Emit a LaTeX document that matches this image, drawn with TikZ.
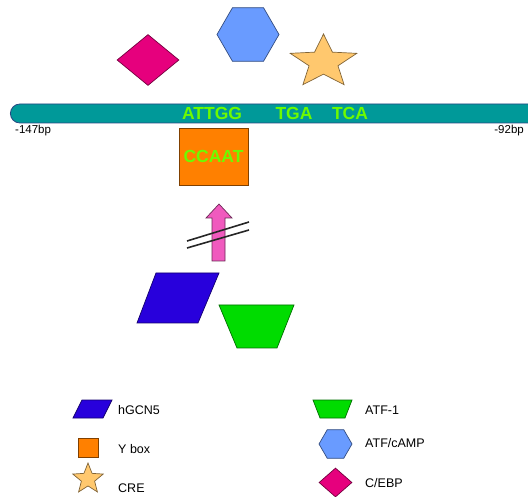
\documentclass[tikz,border=0pt]{standalone}
\usepackage{fontspec}
\setmainfont{Liberation Sans}
\usetikzlibrary{shapes.geometric}
\definecolor{dnateal}{RGB}{0,153,153}
\definecolor{dnaedge}{RGB}{40,70,130}
\definecolor{seqgreen}{RGB}{110,250,0}
\definecolor{yboxorange}{RGB}{255,128,0}
\definecolor{cebppink}{RGB}{230,0,125}
\definecolor{campblue}{RGB}{105,155,255}
\definecolor{crestar}{RGB}{255,200,110}
\definecolor{gcnblue}{RGB}{40,0,220}
\definecolor{atfgreen}{RGB}{0,220,0}
\definecolor{arrowpink}{RGB}{240,90,190}

\begin{document}
\begin{tikzpicture}[
    x=1pt, y=-1pt,
    prot/.style={draw=#1!50!black, fill=#1, line width=0.7pt, inner sep=0pt},
    hexa/.style={regular polygon, regular polygon sides=6},
    seq/.style={text=seqgreen, inner sep=0pt,
                font=\fontsize{17.5}{17.5}\selectfont\bfseries},
    bp/.style={inner sep=0pt, font=\fontsize{11.5}{11.5}\selectfont},
    lbl/.style={anchor=west, inner sep=0pt, font=\fontsize{12.5}{12.5}\selectfont},
    slash/.style={line width=1.6pt, black!85}
]
    \useasboundingbox (0,0) rectangle (528,497);
    % promoter strand
    \node[draw=dnaedge, fill=dnateal, line width=0.8pt, rounded corners=9.5pt,
          minimum width=545pt, minimum height=19pt, anchor=west] (dna) at (10,113.5) {};
    \node[seq] (attgg) at (212,113) {ATTGG};
    \node[seq] (tga)   at (294,113) {TGA};
    \node[seq] (tca)   at (350,113) {TCA};
    \node[bp, anchor=west] (left)  at (15,131) {-147bp};
    \node[bp, anchor=east] (right) at (524,131) {-92bp};
    % bound factors
    \node[prot=cebppink, diamond, minimum width=62pt, minimum height=51pt] (cebp) at (148,60) {};
    \node[prot=campblue, hexa, minimum size=62pt] (camp) at (248,34.5) {};
    \node[prot=crestar, star, star points=5, star point ratio=2.3,
          minimum size=56pt, xscale=1.25] (cre) at (323.5,62) {};
    \node[prot=yboxorange, minimum width=69pt, minimum height=57pt, seq,
          text=seqgreen] (ccaat) at (213.5,156.5) {CCAAT};
    % blocked recruitment
    \filldraw[fill=arrowpink, draw=arrowpink!45!black, line width=0.7pt]
        (212,261) -- (212,218) -- (206,218) -- (219,204) -- (232,218)
        -- (225,218) -- (225,261) -- cycle;
    \draw[slash] (187,241) -- (249,222);
    \draw[slash] (187,248) -- (249,230);
    \filldraw[prot=gcnblue] (137,323) -- (156,273) -- (219,273) -- (198,323) -- cycle;
    \filldraw[prot=atfgreen] (219,305) -- (294,305) -- (277,348) -- (237,348) -- cycle;
    % legend
    \filldraw[prot=gcnblue] (73,418) -- (82,400) -- (112,400) -- (103,418) -- cycle;
    \node[prot=yboxorange, minimum width=20pt, minimum height=19pt] (kybox) at (88,447.5) {};
    \node[prot=crestar, star, star points=5, star point ratio=2.3, minimum size=32pt] (kcre) at (88,479) {};
    \filldraw[prot=atfgreen] (313,400) -- (352,400) -- (345,418) -- (320,418) -- cycle;
    \node[prot=campblue, hexa, minimum size=33pt] (kcamp) at (335.5,444) {};
    \node[prot=cebppink, diamond, minimum width=33pt, minimum height=29pt] (kcebp) at (335.5,482.5) {};
    \node[lbl] (tgcn)  at (118,410) {hGCN5};
    \node[lbl] (tybox) at (118,449) {Y box};
    \node[lbl] (tcre)  at (118,488) {CRE};
    \node[lbl] (tatf)  at (365,410) {ATF-1};
    \node[lbl] (tcamp) at (365,443) {ATF/cAMP};
    \node[lbl] (tcebp) at (365,483) {C/EBP};
\end{tikzpicture}
\end{document}
